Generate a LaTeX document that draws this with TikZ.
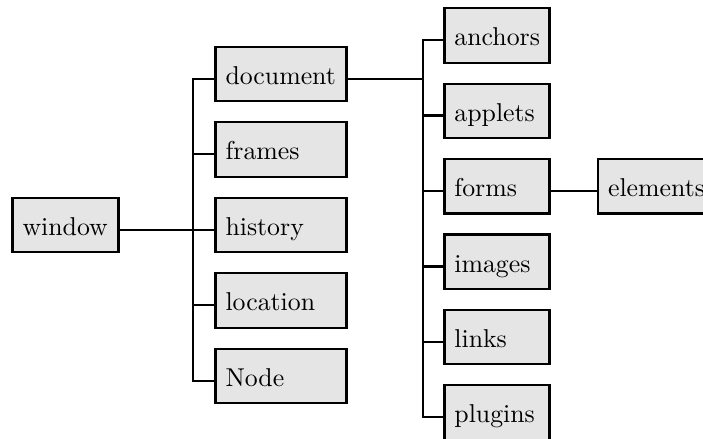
\documentclass[tikz,border=0pt]{standalone}
\usepackage{tikz}
\usetikzlibrary{positioning}
\tikzset{every node/.append style={transform shape=false}}
\tikzset{objbox/.style={draw, fill=gray!20, line width=0.9pt, inner sep=3.85pt,
    minimum height=21.1pt, text height=8pt, text depth=0pt, align=left}}
\tikzset{link/.style={line width=0.9pt}}

\begin{document}
\begin{tikzpicture}[x=0.3876pt, y=-0.3876pt]
  \useasboundingbox (0,0) rectangle (703,439);

  % root
  \node[objbox, text width=33.3pt] (window) at (65.5,225) {window};

  % first level
  \node[objbox, text width=43pt] (document) at (281,74)    {document};
  \node[objbox, text width=43pt] (frames)   at (281,149.5) {frames};
  \node[objbox, text width=43pt] (history)  at (281,225)   {history};
  \node[objbox, text width=43pt] (location) at (281,300.5) {location};
  \node[objbox, text width=43pt] (Node)     at (281,376)   {Node};

  % second level
  \node[objbox, text width=33pt] (anchors) at (497,35.5)  {anchors};
  \node[objbox, text width=33pt] (applets) at (497,110.9) {applets};
  \node[objbox, text width=33pt] (forms)   at (497,186.3) {forms};
  \node[objbox, text width=33pt] (images)  at (497,261.7) {images};
  \node[objbox, text width=33pt] (links)   at (497,337.1) {links};
  \node[objbox, text width=33pt] (plugins) at (497,412.5) {plugins};

  \node[objbox, text width=38pt, anchor=west] (elements) at (597,186.3) {elements};

  \coordinate (trunkA) at (193,0);
  \coordinate (trunkB) at (423,0);

  \draw[link] (window.mid east) -- (history.mid west -| trunkA);
  \draw[link] (document.mid west) -- (document.mid west -| trunkA)
    -- (Node.mid west -| trunkA) -- (Node.mid west);
  \foreach \n in {frames,history,location}
    \draw[link] (\n.mid west) -- (\n.mid west -| trunkA);

  \draw[link] (document.mid east) -- (document.mid east -| trunkB);
  \draw[link] (anchors.mid west) -- (anchors.mid west -| trunkB)
    -- (plugins.mid west -| trunkB) -- (plugins.mid west);
  \foreach \n in {applets,forms,images,links}
    \draw[link] (\n.mid west) -- (\n.mid west -| trunkB);

  \draw[link] (forms.mid east) -- (elements.mid west);
\end{tikzpicture}
\end{document}
